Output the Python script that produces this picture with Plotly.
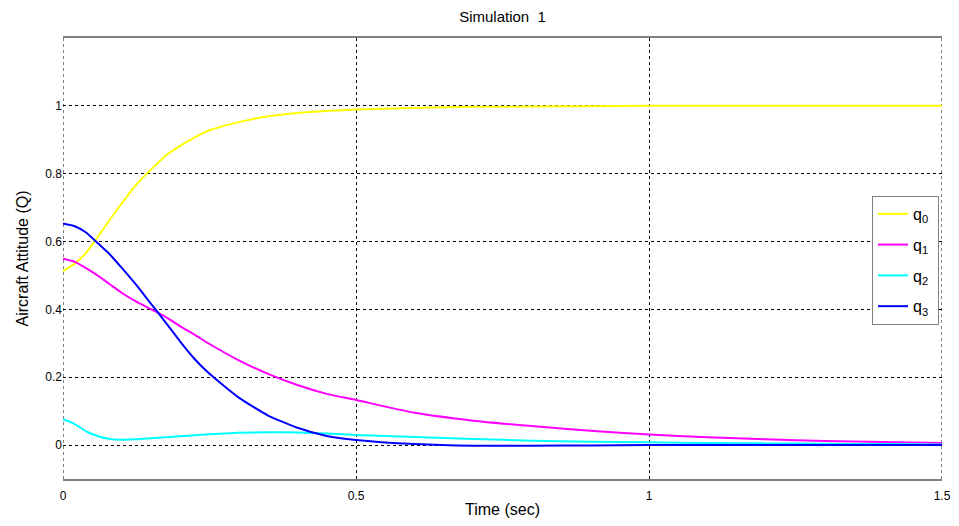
import plotly.graph_objects as go

t = [0, 0.02, 0.04, 0.06, 0.08, 0.1, 0.125, 0.15, 0.175, 0.2, 0.225, 0.25,
     0.3, 0.35, 0.4, 0.45, 0.5, 0.6, 0.7, 0.8, 0.9, 1.0, 1.1, 1.2, 1.3, 1.4, 1.5]
q0 = [0.513, 0.535, 0.568, 0.615, 0.665, 0.712, 0.768, 0.812, 0.853, 0.882, 0.907, 0.928,
      0.952, 0.969, 0.979, 0.985, 0.989, 0.994, 0.997, 0.998, 0.999, 1.0, 1.0, 1.0, 1.0, 1.0, 1.0]
q1 = [0.549, 0.540, 0.521, 0.499, 0.474, 0.449, 0.423, 0.401, 0.378, 0.350, 0.325, 0.298,
      0.250, 0.210, 0.177, 0.151, 0.133, 0.095, 0.072, 0.056, 0.042, 0.031, 0.023, 0.017, 0.012, 0.009, 0.006]
q2 = [0.076, 0.062, 0.040, 0.026, 0.018, 0.016, 0.017, 0.020, 0.023, 0.026, 0.029, 0.032,
      0.036, 0.038, 0.037, 0.034, 0.030, 0.024, 0.018, 0.013, 0.010, 0.008, 0.006, 0.005, 0.004, 0.003, 0.002]
q3 = [0.653, 0.645, 0.626, 0.594, 0.562, 0.523, 0.472, 0.417, 0.362, 0.305, 0.253, 0.210,
      0.140, 0.087, 0.051, 0.027, 0.015, 0.003, -0.002, -0.002, -0.001, 0.0, 0.0, 0.0, 0.0, 0.0, 0.0]

names = ["q<sub>0</sub>\u00a0", "q<sub>1</sub>\u00a0", "q<sub>2</sub>\u00a0", "q<sub>3</sub>\u00a0"]
colors = ["#FFFF00", "#FF00FF", "#00FFFF", "#0000FF"]
series = [q0, q1, q2, q3]

x_ticks = [0, 0.5, 1, 1.5]
x_labels = ["0", "0.5", "1", "1.5"]
y_ticks = [0, 0.2, 0.4, 0.6, 0.8, 1]
y_labels = ["0", "0.2", "0.4", "0.6", "0.8", "1"]
x_range = [0, 1.5]
y_range = [-0.1, 1.2]

fig = go.Figure()
for i, (name, col, vals) in enumerate(zip(names, colors, series)):
    fig.add_trace(go.Scatter(x=t, y=vals, mode="lines", name=name, legendgroup=f"g{i}",
                             line=dict(color=col, width=2, shape="spline", smoothing=0.5)))

# dashed grid lines at the plot edges (plotly hides edge gridlines)
for xv in (x_range[0], x_range[1]):
    fig.add_shape(type="line", xref="x", yref="paper", x0=xv, x1=xv, y0=0, y1=1,
                  line=dict(color="black", width=1, dash="3px,3px"), layer="below")

font_family = "Liberation Sans, Arial, sans-serif"
# page body has an 8px margin, so the figure is 8px smaller than the window
W, H = 951, 518
fig.update_layout(
    width=W, height=H,
    margin=dict(l=55, r=17, t=30, b=47, autoexpand=False),
    paper_bgcolor="white", plot_bgcolor="white",
    font=dict(family=font_family, color="black", size=12),
    title=dict(text="Simulation\u00a0 1", x=0.5, xanchor="center", xref="paper",
               y=1 - 9 / H, yanchor="middle", yref="container",
               font=dict(size=15, family=font_family)),
    showlegend=True,
    legend=dict(x=0.9966, xanchor="right", y=0.642, yanchor="top",
                bgcolor="white", bordercolor="#808080", borderwidth=1,
                font=dict(size=16, family=font_family), itemwidth=30,
                tracegroupgap=7),
    annotations=[
        dict(text="Time (sec)", xref="paper", yref="paper", x=0.5, y=-30 / 441,
             xanchor="center", yanchor="middle", showarrow=False, font=dict(size=16)),
        dict(text="Aircraft Attitude (Q)", xref="paper", yref="paper", x=-41 / 879, y=0.5,
             xanchor="center", yanchor="middle", textangle=-90, showarrow=False,
             font=dict(size=16)),
    ],
)
fig.update_xaxes(
    range=x_range, tickvals=x_ticks, ticktext=x_labels, automargin=False,
    showgrid=True, gridcolor="black", gridwidth=1, griddash="3px,3px",
    zeroline=False, showline=True, linecolor="#808080", linewidth=2, mirror=True,
    ticks="", tickfont=dict(size=12), ticklabelstandoff=5,
)
fig.update_yaxes(
    range=y_range, tickvals=y_ticks, ticktext=y_labels, automargin=False,
    showgrid=True, gridcolor="black", gridwidth=1, griddash="3px,3px",
    zeroline=False, showline=False,
    ticks="", tickfont=dict(size=12),
)

fig.write_html("out.html")
